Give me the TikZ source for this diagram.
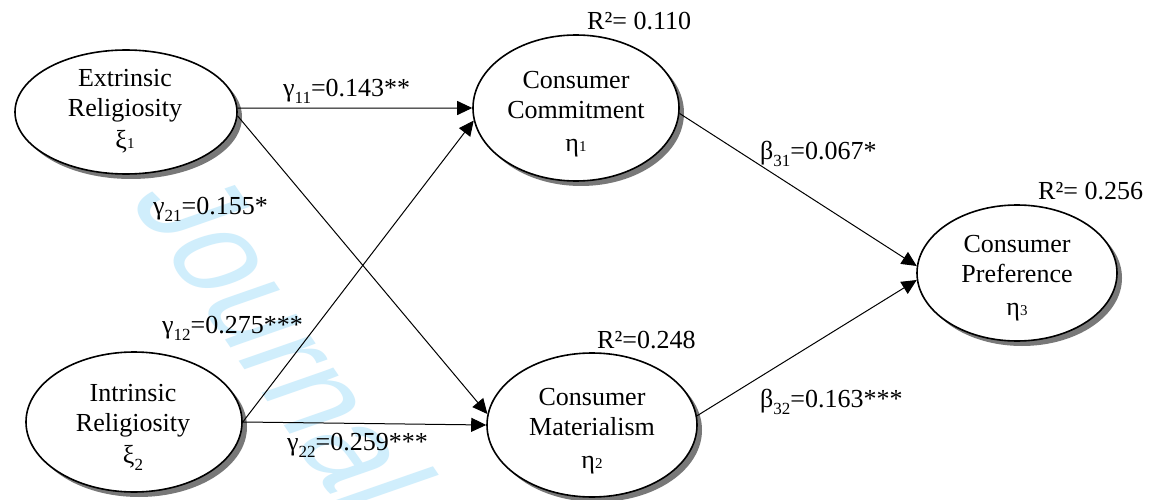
\documentclass[tikz,border=0pt]{standalone}
\usepackage{fontspec}
\setmainfont{Liberation Serif}
\newfontfamily\wmfont{Liberation Sans}
\usetikzlibrary{shapes.geometric,arrows.meta}
\definecolor{wmblue}{RGB}{208,238,252}
\definecolor{shadowgray}{RGB}{120,120,120}
\newcommand{\lsub}[1]{\raisebox{-7pt}{\fontsize{17}{17}\selectfont #1}}
\newcommand{\gsub}[1]{{\fontsize{15}{15}\selectfont #1}}
\begin{document}
\begin{tikzpicture}[x=1pt,y=-1pt,
  latent/.style={ellipse,draw=black,line width=1.6pt,fill=white,inner sep=0pt},
  shadowell/.style={ellipse,draw=none,fill=shadowgray,inner sep=0pt},
  ltext/.style={align=center,font=\fontsize{26}{30}\selectfont,inner sep=0pt},
  lab/.style={anchor=base west,font=\fontsize{26}{26}\selectfont,inner sep=0pt},
  path/.style={line width=1pt,-{Triangle[length=15pt,width=14pt]}}]
\useasboundingbox (0,0) rectangle (1149,500);
\fill[white] (0,0) rectangle (1149,500);
\begin{scope}
\clip (0,0) rectangle (1149,500);
\node[anchor=base west,xscale=1.4,rotate=-64,text=wmblue,inner sep=0pt,font=\wmfont\fontsize{108}{108}\selectfont] (wm) at (128,198) {Journal};
\end{scope}

\node[shadowell,minimum width=222pt,minimum height=124pt] (e1s) at (131,117) {};
\node[shadowell,minimum width=216pt,minimum height=140pt] (i2s) at (139,427) {};
\node[shadowell,minimum width=206pt,minimum height=146pt] (ccs) at (581,113) {};
\node[shadowell,minimum width=210pt,minimum height=144pt] (cms) at (597,430) {};
\node[shadowell,minimum width=200pt,minimum height=136pt] (cps) at (1022,278) {};

\node[latent,minimum width=222pt,minimum height=124pt] (e1) at (126,112) {};
\node[latent,minimum width=216pt,minimum height=140pt] (i2) at (134,422) {};
\node[latent,minimum width=206pt,minimum height=146pt] (cc) at (576,108) {};
\node[latent,minimum width=210pt,minimum height=144pt] (cm) at (592,425) {};
\node[latent,minimum width=200pt,minimum height=136pt] (cp) at (1017,273) {};

\node[ltext] (e1t) at (125,111) {Extrinsic\\Religiosity\\[2pt]ξ\gsub{1}};
\node[ltext] (i2t) at (133,427) {Intrinsic\\Religiosity\\[2pt]ξ\lsub{2}};
\node[ltext] (cct) at (576,114) {Consumer\\Commitment\\[3pt]η\gsub{1}};
\node[ltext] (cmt) at (592,431) {Consumer\\Materialism\\[3pt]η\gsub{2}};
\node[ltext] (cpt) at (1017,278) {Consumer\\Preference\\[3pt]η\gsub{3}};

\draw[path] (e1.2) -- (cc.west);
\draw[path] (e1.-2) -- (cm.174);
\draw[path] (i2.east) -- (cc.187);
\draw[path] (i2.east) -- (cm.west);
\draw[path] (cc.-3) -- (cp.176);
\draw[path] (cm.5) -- (cp.184);

\node[lab] (g11) at (283,97) {γ\lsub{11}=0.143**};
\node[lab] (g21) at (153,214) {γ\lsub{21}=0.155*};
\node[lab] (g12) at (162,333) {γ\lsub{12}=0.275***};
\node[lab] (g22) at (287,450) {γ\lsub{22}=0.259***};
\node[lab] (b31) at (760,160) {β\lsub{31}=0.067*};
\node[lab] (b32) at (760,407) {β\lsub{32}=0.163***};
\node[lab] (r1) at (587,30) {R²= 0.110};
\node[lab] (r2) at (597,348) {R²=0.248};
\node[lab] (r3) at (1038,200) {R²= 0.256};
\end{tikzpicture}
\end{document}
